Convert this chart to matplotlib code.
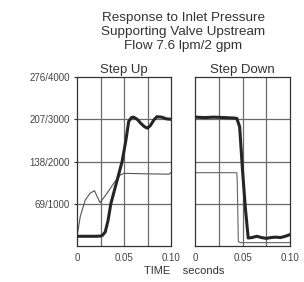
import matplotlib
matplotlib.use('Agg')
import matplotlib.pyplot as plt

plt.rcParams['font.family'] = ['Liberation Sans', 'DejaVu Sans']

# step up response (time s, pressure psi)
up_t_thick = [0, 0.010, 0.020, 0.025, 0.027, 0.030, 0.033, 0.036, 0.042, 0.048, 0.052, 0.055,
              0.058, 0.060, 0.064, 0.068, 0.072, 0.075, 0.078, 0.082, 0.085, 0.090, 0.095, 0.100]
up_p_thick = [230, 230, 230, 235, 250, 330, 600, 1000, 1500, 2000, 2500, 2950,
              3040, 3050, 3000, 2900, 2820, 2790, 2850, 2990, 3060, 3050, 3010, 3000]
up_t_thin = [0, 0.0035, 0.0088, 0.014, 0.0186, 0.0245, 0.032, 0.039, 0.046, 0.050, 0.070, 0.098, 0.100]
up_p_thin = [220, 700, 1090, 1250, 1310, 1025, 1250, 1480, 1680, 1720, 1710, 1700, 1740]

# step down response
dn_t_thick = [0, 0.010, 0.020, 0.030, 0.040, 0.044, 0.047, 0.050, 0.053, 0.056, 0.060, 0.065,
              0.070, 0.075, 0.080, 0.085, 0.090, 0.095, 0.100]
dn_p_thick = [3050, 3040, 3050, 3040, 3030, 3020, 2820, 1800, 900, 190, 200, 230,
              200, 180, 200, 210, 200, 230, 270]
dn_t_thin = [0, 0.020, 0.044, 0.0445, 0.0456, 0.048, 0.070, 0.100]
dn_p_thin = [1735, 1735, 1735, 1500, 100, 80, 80, 80]

yticks = [1000, 2000, 3000, 4000]
ylabels = ['69/1000', '138/2000', '207/3000', '276/4000']
xticks = [0, 0.05, 0.10]
xlabels = ['0', '0.05', '0.10']
grid_x = [0.025, 0.05, 0.075]
grid_y = [1000, 2000, 3000]

fig = plt.figure(figsize=(3.04, 2.82), dpi=100)
ax1 = fig.add_axes([77/304, 1-246/282, 94/304, 169/282])
ax2 = fig.add_axes([195/304, 1-246/282, 95/304, 169/282])

for ax, ttl in [(ax1, 'Step Up'), (ax2, 'Step Down')]:
    ax.set_xlim(0, 0.1)
    ax.set_ylim(0, 4000)
    for g in grid_x:
        ax.axvline(g, color='#6a6a6a', lw=0.9, zorder=1)
    for g in grid_y:
        ax.axhline(g, color='#6a6a6a', lw=0.9, zorder=1)
    for s in ax.spines.values():
        s.set_color('#333333')
        s.set_linewidth(0.9)
    ax.set_xticks(xticks)
    ax.set_xticklabels(xlabels, fontsize=7, color='#444444')
    ax.tick_params(axis='x', length=0, pad=5)
    ax.set_title(ttl, fontsize=9.5, pad=3, color='#333333')

ax1.set_yticks(yticks)
ax1.set_yticklabels(ylabels, fontsize=7, color='#444444')
ax1.tick_params(axis='y', length=2, pad=3, color='#333333')
ax2.set_yticks([])

ax1.plot(up_t_thin, up_p_thin, color='#555555', lw=0.8, zorder=2)
ax1.plot(up_t_thick, up_p_thick, color='#252525', lw=2.2, zorder=3)
ax2.plot(dn_t_thin, dn_p_thin, color='#666666', lw=0.8, zorder=2)
ax2.plot(dn_t_thick, dn_p_thick, color='#252525', lw=2.2, zorder=3)

fig.text(0.602, 1-32/282, 'Response to Inlet Pressure\nSupporting Valve Upstream\nFlow 7.6 lpm/2 gpm',
         ha='center', va='center', fontsize=9.7, linespacing=1.25, color='#333333')
fig.text(184/304, 1-271/282, 'TIME    seconds', ha='center', va='center', fontsize=8, color='#333333')

fig.savefig('out.png', dpi=100)
